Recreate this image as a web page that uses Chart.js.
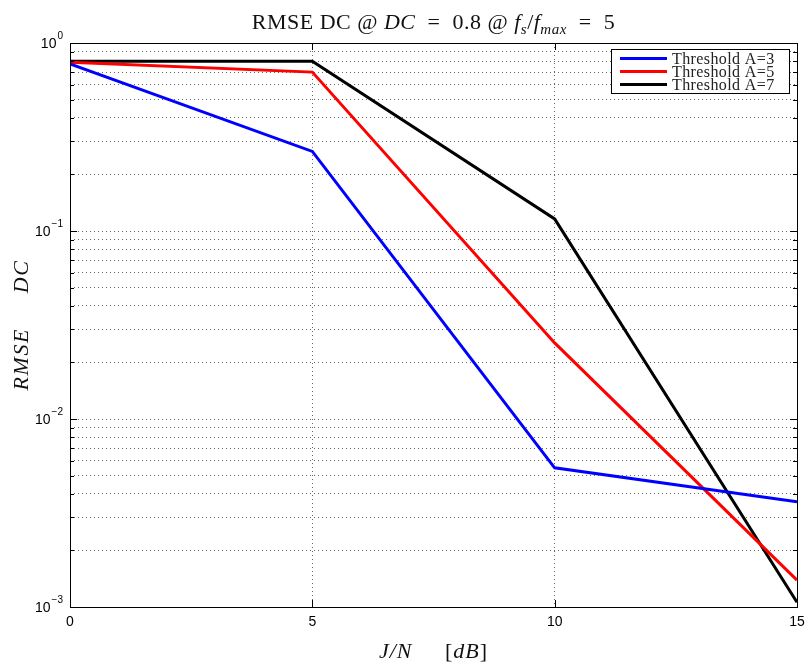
<!DOCTYPE html>
<html>
<head>
<meta charset="utf-8">
<script src="https://cdn.jsdelivr.net/npm/chart.js@4/dist/chart.umd.min.js"></script>
<style>
  html, body { margin: 0; padding: 0; background: #fff; }
  #wrap { width: 809px; height: 668px; }
</style>
</head>
<body>
<div id="wrap"><canvas id="rmseChart" width="809" height="668"></canvas></div>
<script>
// J/N in dB and RMSE of the DC estimate for three thresholds
const jnDb = [0, 5, 10, 15];
const rmseA3 = [0.775, 0.265, 0.0055, 0.00363];
const rmseA5 = [0.79, 0.70, 0.0254, 0.00139];
const rmseA7 = [0.80, 0.80, 0.116, 0.00106];
const seriesLabels = ['Threshold A=3', 'Threshold A=5', 'Threshold A=7'];
const seriesColors = ['#0000ff', '#ff0000', '#000000'];
const xTicks = [0, 5, 10, 15];
const yDecades = [0.001, 0.01, 0.1, 1];
const yExponents = ['\u22123', '\u22122', '\u22121', '0'];

const toPoints = (vals) => jnDb.map((x, i) => ({ x: x, y: vals[i] }));

const serif = '"Liberation Serif", "DejaVu Serif", serif';
const sans = '"Liberation Sans", Arial, sans-serif';

function drawRuns(ctx, runs, cx, cy, size, spacing) {
    // runs: [text, italic, sub]
    const fontOf = (r) => (r[1] ? 'italic ' : '') + Math.round(r[2] ? size * 0.7 : size) + 'px ' + serif;
    ctx.letterSpacing = (spacing || 0) + 'px';
    let total = 0;
    runs.forEach(r => { ctx.font = fontOf(r); total += ctx.measureText(r[0]).width; });
    let x = cx - total / 2;
    ctx.textBaseline = 'alphabetic';
    ctx.textAlign = 'left';
    runs.forEach(r => {
        ctx.font = fontOf(r);
        ctx.fillText(r[0], x, cy + (r[2] ? size * 0.22 : 0));
        x += ctx.measureText(r[0]).width;
    });
    ctx.letterSpacing = '0px';
}

const matlabAxes = {
    id: 'matlabAxes',
    afterDatasetsDraw(chart) {
        const { ctx, chartArea: a, scales } = chart;
        const xs = scales.x, ys = scales.y;
        ctx.save();
        ctx.strokeStyle = '#000';
        ctx.lineWidth = 1;
        ctx.beginPath();
        // inward ticks on y (decades long, minors short), both sides
        ys.ticks.forEach(t => {
            const y = Math.round(ys.getPixelForValue(t.value)) + 0.5;
            const len = t.major ? 7 : 4;
            ctx.moveTo(a.left, y); ctx.lineTo(a.left + len, y);
            ctx.moveTo(a.right, y); ctx.lineTo(a.right - len, y);
        });
        xTicks.forEach(v => {
            const x = Math.round(xs.getPixelForValue(v)) + 0.5;
            ctx.moveTo(x, a.bottom); ctx.lineTo(x, a.bottom - 7);
            ctx.moveTo(x, a.top); ctx.lineTo(x, a.top + 7);
        });
        ctx.stroke();
        ctx.strokeRect(Math.round(a.left) + 0.5, Math.round(a.top) + 0.5,
            Math.round(a.right - a.left), Math.round(a.bottom - a.top));

        // tick labels
        ctx.fillStyle = '#000';
        ctx.font = '14px ' + sans;
        ctx.textAlign = 'center';
        ctx.textBaseline = 'top';
        xTicks.forEach(v => ctx.fillText(String(v), xs.getPixelForValue(v), a.bottom + 8));
        yDecades.forEach((v, i) => {
            const y = ys.getPixelForValue(v);
            ctx.font = '10px ' + sans;
            ctx.textAlign = 'left';
            ctx.textBaseline = 'alphabetic';
            const ew = ctx.measureText(yExponents[i]).width;
            const ex = a.left - 7 - ew;
            ctx.fillText(yExponents[i], ex, y - 4);
            ctx.font = '14px ' + sans;
            ctx.textAlign = 'right';
            ctx.textBaseline = 'middle';
            ctx.fillText('10', ex - 1, y + 1);
        });

        // title and axis titles
        ctx.fillStyle = '#111';
        drawRuns(ctx, [['RMSE DC @ ', false, false], ['DC', true, false], ['  =  0.8 @ ', false, false],
            ['f', true, false], ['s', true, true], ['/', false, false], ['f', true, false],
            ['max', true, true], ['  =  5', false, false]], (a.left + a.right) / 2, 29, 22, 0.5);
        drawRuns(ctx, [['J/N', true, false], ['     [', false, false], ['dB', true, false], [']', false, false]],
            (a.left + a.right) / 2, 658, 22, 1);
        ctx.save();
        ctx.translate(28, (a.top + a.bottom) / 2);
        ctx.rotate(-Math.PI / 2);
        drawRuns(ctx, [['RMSE', true, false], ['     ', false, false], ['DC', true, false]], 0, 0, 22, 1.5);
        ctx.restore();

        // legend box
        const lx = 611, ly = 49, lw = 178, lh = 44;
        ctx.fillStyle = '#fff';
        ctx.fillRect(lx, ly, lw, lh);
        ctx.strokeStyle = '#000';
        ctx.lineWidth = 1;
        ctx.strokeRect(lx + 0.5, ly + 0.5, lw, lh);
        chart.data.datasets.forEach((ds, i) => {
            const ry = ly + 9.5 + i * 13;
            ctx.strokeStyle = ds.borderColor;
            ctx.lineWidth = 3;
            ctx.beginPath();
            ctx.moveTo(lx + 9, ry); ctx.lineTo(lx + 56, ry);
            ctx.stroke();
            ctx.fillStyle = '#222';
            ctx.font = '16px ' + serif;
            ctx.letterSpacing = '0.4px';
            ctx.textAlign = 'left';
            ctx.textBaseline = 'middle';
            ctx.fillText(ds.label, lx + 61, ry + 1);
            ctx.letterSpacing = '0px';
        });
        ctx.restore();
    }
};

const gridColor = 'rgba(0,0,0,0.6)';

new Chart(document.getElementById('rmseChart'), {
    type: 'line',
    data: {
        datasets: [rmseA3, rmseA5, rmseA7].map((vals, i) => ({
            label: seriesLabels[i],
            data: toPoints(vals),
            borderColor: seriesColors[i],
            backgroundColor: seriesColors[i],
            borderWidth: 3,
            pointRadius: 0,
            tension: 0,
            fill: false
        }))
    },
    options: {
        responsive: false,
        animation: false,
        devicePixelRatio: 1,
        layout: { padding: { left: 70, right: 12, top: 43, bottom: 61 } },
        plugins: { legend: { display: false }, title: { display: false }, tooltip: { enabled: false } },
        scales: {
            x: {
                type: 'linear', min: 0, max: 15,
                afterBuildTicks: (s) => { s.ticks = xTicks.map(v => ({ value: v })); },
                ticks: { display: false },
                grid: { color: gridColor, lineWidth: 1, drawTicks: false },
                border: { display: false, dash: [1, 3] }
            },
            y: {
                type: 'logarithmic', min: 0.001, max: 1,
                afterBuildTicks: (s) => {
                    const t = [];
                    yDecades.forEach((d, i) => {
                        t.push({ value: d, major: true });
                        if (i < yDecades.length - 1) {
                            for (let m = 2; m <= 9; m++) t.push({ value: d * m, major: false });
                        }
                    });
                    s.ticks = t;
                },
                ticks: { display: false },
                grid: { color: gridColor, lineWidth: 1, drawTicks: false },
                border: { display: false, dash: [1, 3] }
            }
        }
    },
    plugins: [matlabAxes]
});
</script>
</body>
</html>
